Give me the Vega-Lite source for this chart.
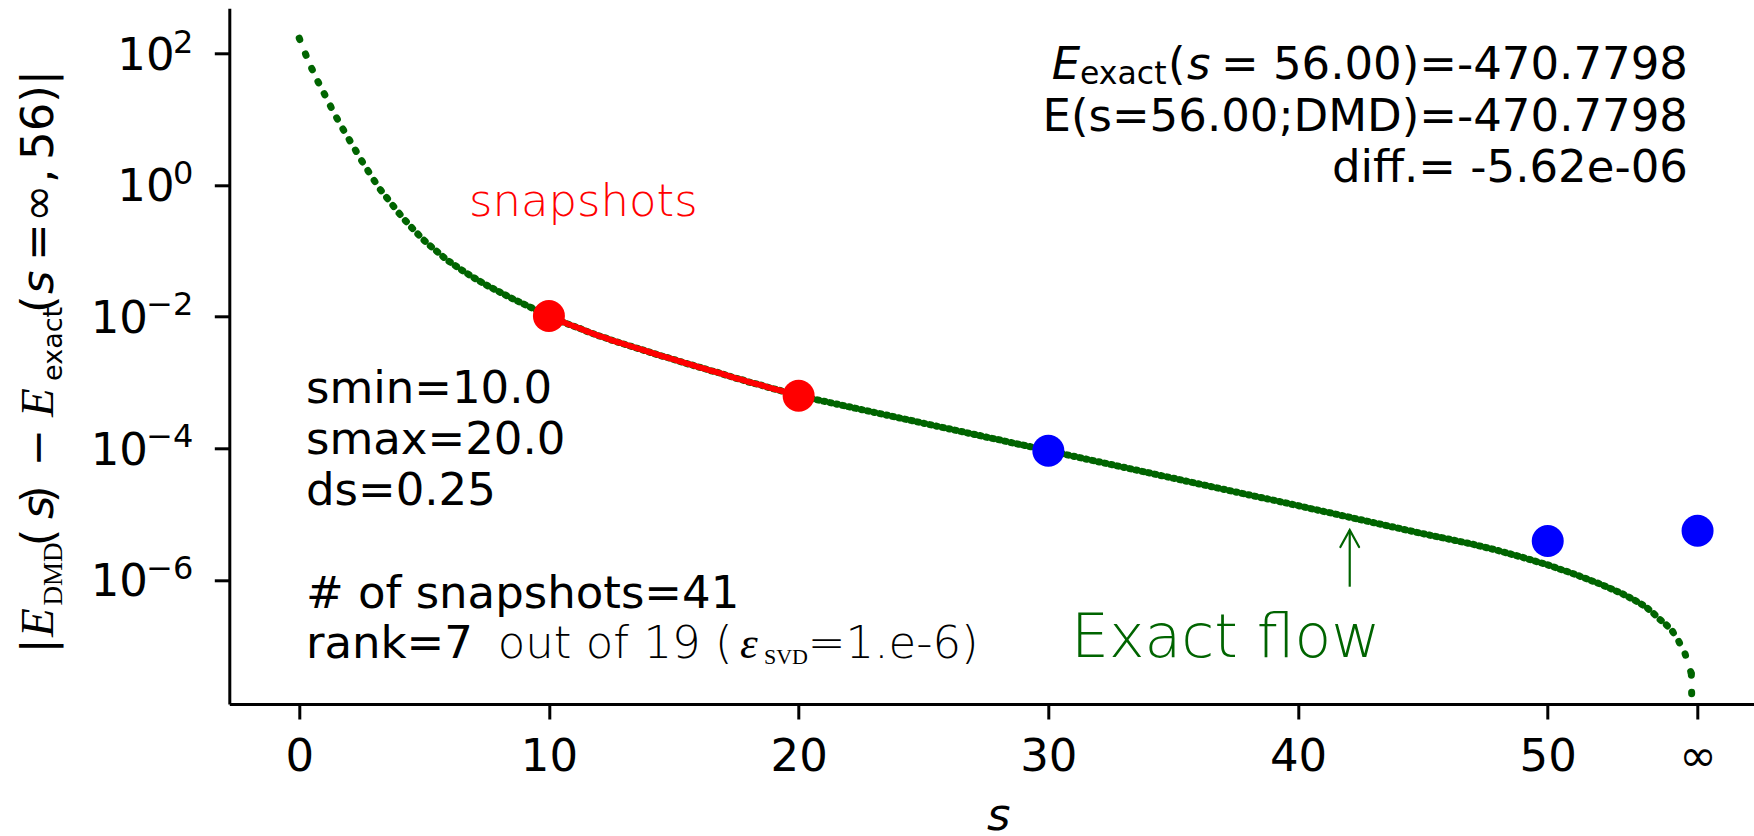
{
  "$schema": "https://vega.github.io/schema/vega-lite/v6.json",
  "width": 1524.7,
  "height": 695.7,
  "autosize": {"type": "none"},
  "padding": {"left": 229.3, "top": 8.3, "right": 0, "bottom": 132},
  "background": "white",
  "config": {
    "view": {"stroke": null},
    "axis": {
      "grid": false,
      "domainColor": "black",
      "domainWidth": 3,
      "tickColor": "black",
      "tickWidth": 3,
      "tickSize": 15,
      "labelFont": "DejaVu Sans",
      "labelFontSize": 45,
      "labelColor": "black",
      "labelFlush": false,
      "labelOverlap": false,
      "labelBound": false
    }
  },
  "datasets": {
    "exact": [
      {"s": 0, "value": 170}, {"s": 0.25, "value": 97.7}, {"s": 0.5, "value": 58.9}, {"s": 0.75, "value": 37.2},
      {"s": 1, "value": 24.5}, {"s": 1.25, "value": 15.85}, {"s": 1.5, "value": 10.47}, {"s": 1.75, "value": 7.08},
      {"s": 2, "value": 4.90}, {"s": 2.25, "value": 3.39}, {"s": 2.5, "value": 2.34}, {"s": 2.75, "value": 1.66},
      {"s": 3, "value": 1.175}, {"s": 3.25, "value": 0.851}, {"s": 3.5, "value": 0.646}, {"s": 3.75, "value": 0.490},
      {"s": 4, "value": 0.372}, {"s": 4.25, "value": 0.288}, {"s": 4.5, "value": 0.2265}, {"s": 4.75, "value": 0.1799},
      {"s": 5, "value": 0.1445}, {"s": 5.25, "value": 0.1189}, {"s": 5.5, "value": 0.0989}, {"s": 5.75, "value": 0.0822},
      {"s": 6, "value": 0.0692}, {"s": 6.25, "value": 0.0596}, {"s": 6.5, "value": 0.0513}, {"s": 6.75, "value": 0.0447},
      {"s": 7, "value": 0.0389}, {"s": 7.25, "value": 0.0343}, {"s": 7.5, "value": 0.0302}, {"s": 7.75, "value": 0.0269},
      {"s": 8, "value": 0.0240}, {"s": 8.25, "value": 0.0214}, {"s": 8.5, "value": 0.0191}, {"s": 8.75, "value": 0.0172},
      {"s": 9, "value": 0.0155}, {"s": 9.25, "value": 0.0140}, {"s": 9.5, "value": 0.0126}, {"s": 9.75, "value": 0.01135},
      {"s": 10, "value": 0.01023}, {"s": 10.25, "value": 9.33e-3}, {"s": 10.5, "value": 8.51e-3}, {"s": 10.75, "value": 7.76e-3},
      {"s": 11, "value": 7.16e-3}, {"s": 11.25, "value": 6.61e-3}, {"s": 11.5, "value": 6.03e-3}, {"s": 11.75, "value": 5.56e-3},
      {"s": 12, "value": 5.13e-3}, {"s": 12.25, "value": 4.79e-3}, {"s": 12.5, "value": 4.42e-3}, {"s": 12.75, "value": 4.12e-3},
      {"s": 13, "value": 3.85e-3}, {"s": 13.25, "value": 3.59e-3}, {"s": 13.5, "value": 3.35e-3}, {"s": 13.75, "value": 3.13e-3},
      {"s": 14, "value": 2.92e-3}, {"s": 14.25, "value": 2.72e-3}, {"s": 14.5, "value": 2.54e-3}, {"s": 14.75, "value": 2.40e-3},
      {"s": 15, "value": 2.24e-3}, {"s": 15.25, "value": 2.09e-3}, {"s": 15.5, "value": 1.95e-3}, {"s": 15.75, "value": 1.84e-3},
      {"s": 16, "value": 1.72e-3}, {"s": 16.25, "value": 1.62e-3}, {"s": 16.5, "value": 1.51e-3}, {"s": 16.75, "value": 1.43e-3},
      {"s": 17, "value": 1.33e-3}, {"s": 17.25, "value": 1.245e-3}, {"s": 17.5, "value": 1.16e-3}, {"s": 17.75, "value": 1.10e-3},
      {"s": 18, "value": 1.02e-3}, {"s": 18.25, "value": 9.66e-4}, {"s": 18.5, "value": 9.12e-4}, {"s": 18.75, "value": 8.51e-4},
      {"s": 19, "value": 8.04e-4}, {"s": 19.25, "value": 7.59e-4}, {"s": 19.5, "value": 7.08e-4}, {"s": 19.75, "value": 6.68e-4},
      {"s": 20, "value": 6.31e-4}, {"s": 20.25, "value": 6.01e-4}, {"s": 20.5, "value": 5.73e-4}, {"s": 20.75, "value": 5.46e-4},
      {"s": 21, "value": 5.21e-4}, {"s": 21.25, "value": 4.96e-4}, {"s": 21.5, "value": 4.73e-4}, {"s": 21.75, "value": 4.51e-4},
      {"s": 22, "value": 4.30e-4}, {"s": 22.25, "value": 4.09e-4}, {"s": 22.5, "value": 3.90e-4}, {"s": 22.75, "value": 3.72e-4},
      {"s": 23, "value": 3.54e-4}, {"s": 23.25, "value": 3.38e-4}, {"s": 23.5, "value": 3.22e-4}, {"s": 23.75, "value": 3.07e-4},
      {"s": 24, "value": 2.92e-4}, {"s": 24.25, "value": 2.79e-4}, {"s": 24.5, "value": 2.66e-4}, {"s": 24.75, "value": 2.53e-4},
      {"s": 25, "value": 2.41e-4}, {"s": 25.25, "value": 2.30e-4}, {"s": 25.5, "value": 2.19e-4}, {"s": 25.75, "value": 2.09e-4},
      {"s": 26, "value": 1.99e-4}, {"s": 26.25, "value": 1.90e-4}, {"s": 26.5, "value": 1.81e-4}, {"s": 26.75, "value": 1.72e-4},
      {"s": 27, "value": 1.64e-4}, {"s": 27.25, "value": 1.57e-4}, {"s": 27.5, "value": 1.49e-4}, {"s": 27.75, "value": 1.42e-4},
      {"s": 28, "value": 1.36e-4}, {"s": 28.25, "value": 1.29e-4}, {"s": 28.5, "value": 1.23e-4}, {"s": 28.75, "value": 1.17e-4},
      {"s": 29, "value": 1.12e-4}, {"s": 29.25, "value": 1.07e-4}, {"s": 29.5, "value": 1.02e-4}, {"s": 29.75, "value": 9.68e-5},
      {"s": 30, "value": 9.23e-5}, {"s": 30.25, "value": 8.79e-5}, {"s": 30.5, "value": 8.38e-5}, {"s": 30.75, "value": 7.99e-5},
      {"s": 31, "value": 7.61e-5}, {"s": 31.25, "value": 7.26e-5}, {"s": 31.5, "value": 6.91e-5}, {"s": 31.75, "value": 6.59e-5},
      {"s": 32, "value": 6.28e-5}, {"s": 32.25, "value": 5.99e-5}, {"s": 32.5, "value": 5.71e-5}, {"s": 32.75, "value": 5.44e-5},
      {"s": 33, "value": 5.18e-5}, {"s": 33.25, "value": 4.94e-5}, {"s": 33.5, "value": 4.71e-5}, {"s": 33.75, "value": 4.49e-5},
      {"s": 34, "value": 4.28e-5}, {"s": 34.25, "value": 4.08e-5}, {"s": 34.5, "value": 3.88e-5}, {"s": 34.75, "value": 3.70e-5},
      {"s": 35, "value": 3.53e-5}, {"s": 35.25, "value": 3.36e-5}, {"s": 35.5, "value": 3.20e-5}, {"s": 35.75, "value": 3.05e-5},
      {"s": 36, "value": 2.91e-5}, {"s": 36.25, "value": 2.77e-5}, {"s": 36.5, "value": 2.64e-5}, {"s": 36.75, "value": 2.52e-5},
      {"s": 37, "value": 2.40e-5}, {"s": 37.25, "value": 2.29e-5}, {"s": 37.5, "value": 2.18e-5}, {"s": 37.75, "value": 2.08e-5},
      {"s": 38, "value": 1.98e-5}, {"s": 38.25, "value": 1.89e-5}, {"s": 38.5, "value": 1.80e-5}, {"s": 38.75, "value": 1.72e-5},
      {"s": 39, "value": 1.64e-5}, {"s": 39.25, "value": 1.56e-5}, {"s": 39.5, "value": 1.49e-5}, {"s": 39.75, "value": 1.42e-5},
      {"s": 40, "value": 1.35e-5}, {"s": 40.25, "value": 1.285e-5}, {"s": 40.5, "value": 1.22e-5}, {"s": 40.75, "value": 1.165e-5},
      {"s": 41, "value": 1.11e-5}, {"s": 41.25, "value": 1.06e-5}, {"s": 41.5, "value": 1.006e-5}, {"s": 41.75, "value": 9.58e-6},
      {"s": 42, "value": 9.12e-6}, {"s": 42.25, "value": 8.68e-6}, {"s": 42.5, "value": 8.27e-6}, {"s": 42.75, "value": 7.87e-6},
      {"s": 43, "value": 7.50e-6}, {"s": 43.25, "value": 7.14e-6}, {"s": 43.5, "value": 6.80e-6}, {"s": 43.75, "value": 6.47e-6},
      {"s": 44, "value": 6.17e-6}, {"s": 44.25, "value": 5.87e-6}, {"s": 44.5, "value": 5.59e-6}, {"s": 44.75, "value": 5.32e-6},
      {"s": 45, "value": 5.07e-6}, {"s": 45.25, "value": 4.84e-6}, {"s": 45.5, "value": 4.62e-6}, {"s": 45.75, "value": 4.42e-6},
      {"s": 46, "value": 4.22e-6}, {"s": 46.25, "value": 4.03e-6}, {"s": 46.5, "value": 3.85e-6}, {"s": 46.75, "value": 3.67e-6},
      {"s": 47, "value": 3.51e-6}, {"s": 47.25, "value": 3.32e-6}, {"s": 47.5, "value": 3.14e-6}, {"s": 47.75, "value": 2.98e-6},
      {"s": 48, "value": 2.82e-6}, {"s": 48.25, "value": 2.65e-6}, {"s": 48.5, "value": 2.50e-6}, {"s": 48.75, "value": 2.35e-6},
      {"s": 49, "value": 2.21e-6}, {"s": 49.25, "value": 2.07e-6}, {"s": 49.5, "value": 1.94e-6}, {"s": 49.75, "value": 1.82e-6},
      {"s": 50, "value": 1.70e-6}, {"s": 50.25, "value": 1.58e-6}, {"s": 50.5, "value": 1.46e-6}, {"s": 50.75, "value": 1.36e-6},
      {"s": 51, "value": 1.26e-6}, {"s": 51.25, "value": 1.16e-6}, {"s": 51.5, "value": 1.065e-6}, {"s": 51.75, "value": 9.80e-7},
      {"s": 52, "value": 9.02e-7}, {"s": 52.25, "value": 8.22e-7}, {"s": 52.5, "value": 7.50e-7}, {"s": 52.75, "value": 6.81e-7},
      {"s": 53, "value": 6.17e-7}, {"s": 53.25, "value": 5.50e-7}, {"s": 53.5, "value": 4.90e-7}, {"s": 53.75, "value": 4.32e-7},
      {"s": 54, "value": 3.72e-7}, {"s": 54.25, "value": 3.09e-7}, {"s": 54.5, "value": 2.51e-7}, {"s": 54.75, "value": 2.09e-7},
      {"s": 55, "value": 1.66e-7}, {"s": 55.25, "value": 1.17e-7}, {"s": 55.5, "value": 7.59e-8}, {"s": 55.75, "value": 3.80e-8},
      {"s": 56, "value": 1e-13}
    ],
    "dmd": [
      {"s": 10, "value": 0.01023, "kind": "snapshot"},
      {"s": 20, "value": 6.31e-4, "kind": "snapshot"},
      {"s": 30, "value": 9.23e-5, "kind": "prediction"},
      {"s": 50, "value": 3.93e-6, "kind": "prediction"},
      {"s": 56, "value": 5.62e-6, "kind": "prediction"}
    ]
  },
  "encoding": {
    "x": {
      "field": "s",
      "type": "quantitative",
      "scale": {"domain": [-2.8, 58.26], "nice": false, "zero": false},
      "axis": {
        "values": [0, 10, 20, 30, 40, 50, 56],
        "labelExpr": "datum.value == 56 ? '∞' : datum.label",
        "labelPadding": 15,
        "title": "s",
        "titleFont": "DejaVu Sans",
        "titleFontStyle": "italic",
        "titleFontWeight": "normal",
        "titleFontSize": 45,
        "titleColor": "black",
        "titleX": 769,
        "titleY": 125,
        "titleAlign": "center",
        "titleBaseline": "alphabetic"
      }
    },
    "y": {
      "field": "value",
      "type": "quantitative",
      "scale": {"type": "log", "domain": [1.314e-8, 482.5], "nice": false},
      "axis": {
        "values": [100, 1, 0.01, 0.0001, 0.000001],
        "labels": false,
        "title": null
      }
    }
  },
  "layer": [
    {
      "data": {"name": "exact"},
      "transform": [
        {"window": [{"op": "lead", "field": "s", "as": "s_next"}, {"op": "lead", "field": "value", "as": "value_next"}], "sort": [{"field": "s"}]},
        {"filter": "isValid(datum.s_next)"}
      ],
      "mark": {"type": "rule", "color": "#006400", "strokeWidth": 7, "strokeDash": [1.5, 17.05], "strokeCap": "round", "clip": true},
      "encoding": {"x2": {"field": "s_next"}, "y2": {"field": "value_next"}}
    },
    {
      "data": {"name": "exact"},
      "transform": [{"filter": "datum.s >= 10 && datum.s <= 20"}],
      "mark": {"type": "line", "color": "#ff0000", "strokeWidth": 6},
      "encoding": {}
    },
    {
      "data": {"name": "dmd"},
      "mark": {"type": "circle", "size": 1024, "opacity": 1},
      "encoding": {
        "color": {"field": "kind", "type": "nominal", "scale": {"domain": ["snapshot", "prediction"], "range": ["#ff0000", "#0000ff"]}, "legend": null}
      }
    },
    {
      "mark": {"type": "rule", "color": "black", "strokeWidth": 3},
      "encoding": {"x": null, "y": {"datum": 482.5}}
    },
    {
      "data": {"values": [{"s": 42.07, "value": 5.77e-6, "tail": 7.94e-7}]},
      "mark": {"type": "rule", "color": "#006400", "strokeWidth": 2.2},
      "encoding": {"y2": {"field": "tail"}}
    },
    {
      "data": {"values": [{"s": 42.07, "value": 5.77e-6}]},
      "mark": {"type": "point", "shape": "M-0.55,1L0,0L0.55,1", "size": 1156, "filled": false, "opacity": 1, "color": "#006400", "strokeWidth": 2.2, "strokeCap": "round"},
      "encoding": {}
    },
    {
      "data": {"values": [
        {"label": "10", "s": -4.99, "value": 56.55},
        {"label": "10", "s": -4.99, "value": 0.5655},
        {"label": "10", "s": -6.06, "value": 5.655e-3},
        {"label": "10", "s": -6.06, "value": 5.655e-5},
        {"label": "10", "s": -6.06, "value": 5.655e-7}
      ]},
      "mark": {"type": "text", "font": "DejaVu Sans", "fontSize": 45, "align": "right", "baseline": "alphabetic", "color": "black"},
      "encoding": {"text": {"field": "label"}}
    },
    {
      "data": {"values": [
        {"label": "2", "s": -4.237, "value": 100},
        {"label": "0", "s": -4.237, "value": 1.054},
        {"label": "−2", "s": -4.237, "value": 0.01054},
        {"label": "−4", "s": -4.237, "value": 1.054e-4},
        {"label": "−6", "s": -4.237, "value": 1.054e-6}
      ]},
      "mark": {"type": "text", "font": "DejaVu Sans", "fontSize": 32, "align": "right", "baseline": "alphabetic", "color": "black"},
      "encoding": {"text": {"field": "label"}}
    },
    {
      "data": {"values": [
        {"label": "smin=10.0", "s": 0.27, "value": 4.94e-4},
        {"label": "smax=20.0", "s": 0.27, "value": 8.14e-5},
        {"label": "ds=0.25", "s": 0.27, "value": 1.382e-5},
        {"label": "# of snapshots=41", "s": 0.27, "value": 3.73e-7},
        {"label": "rank=7", "s": 0.27, "value": 6.49e-8},
        {"label": "(", "s": 34.79, "value": 40.3}
      ]},
      "mark": {"type": "text", "font": "DejaVu Sans", "fontSize": 45, "align": "left", "baseline": "alphabetic", "color": "black"},
      "encoding": {"text": {"field": "label"}}
    },
    {
      "data": {"values": [
        {"label": "= 56.00)=-470.7798", "s": 55.615, "value": 40.3},
        {"label": "E(s=56.00;DMD)=-470.7798", "s": 55.615, "value": 6.68},
        {"label": "diff.= -5.62e-06", "s": 55.615, "value": 1.122}
      ]},
      "mark": {"type": "text", "font": "DejaVu Sans", "fontSize": 45, "align": "right", "baseline": "alphabetic", "color": "black"},
      "encoding": {"text": {"field": "label"}}
    },
    {
      "data": {"values": [
        {"label": "E", "s": 30.14, "value": 40.3},
        {"label": "s", "s": 35.55, "value": 40.3}
      ]},
      "mark": {"type": "text", "font": "DejaVu Sans", "fontStyle": "italic", "fontSize": 45, "align": "left", "baseline": "alphabetic", "color": "black"},
      "encoding": {"text": {"field": "label"}}
    },
    {
      "data": {"values": [{"label": "exact", "s": 31.27, "value": 33.6}]},
      "mark": {"type": "text", "font": "DejaVu Sans", "fontSize": 31.5, "align": "left", "baseline": "alphabetic", "color": "black"},
      "encoding": {"text": {"field": "label"}}
    },
    {
      "data": {"values": [
        {"label": "out of 19 (", "s": 7.95, "value": 6.49e-8},
        {"label": "=1.e-6)", "s": 20.37, "value": 6.49e-8}
      ]},
      "mark": {"type": "text", "font": "DejaVu Sans", "fontWeight": 200, "fontSize": 45, "align": "left", "baseline": "alphabetic", "color": "black"},
      "encoding": {"text": {"field": "label"}}
    },
    {
      "data": {"values": [{"label": "ε", "s": 17.65, "value": 6.49e-8}]},
      "mark": {"type": "text", "font": "Liberation Serif", "fontStyle": "italic", "fontSize": 45, "align": "left", "baseline": "alphabetic", "color": "black"},
      "encoding": {"text": {"field": "label"}}
    },
    {
      "data": {"values": [{"label": "SVD", "s": 18.61, "value": 5.26e-8}]},
      "mark": {"type": "text", "font": "Liberation Serif", "fontSize": 22, "align": "left", "baseline": "alphabetic", "color": "black"},
      "encoding": {"text": {"field": "label"}}
    },
    {
      "data": {"values": [{"label": "snapshots", "s": 6.8, "value": 0.342}]},
      "mark": {"type": "text", "font": "DejaVu Sans", "fontWeight": 200, "fontSize": 45, "align": "left", "baseline": "alphabetic", "color": "#ff0000"},
      "encoding": {"text": {"field": "label"}}
    },
    {
      "data": {"values": [{"label": "Exact flow", "s": 30.91, "value": 6.87e-8}]},
      "mark": {"type": "text", "font": "DejaVu Sans", "fontWeight": 200, "fontSize": 60, "align": "left", "baseline": "alphabetic", "color": "#006400"},
      "encoding": {"text": {"field": "label"}}
    },
    {
      "data": {"values": [
        {"label": "|", "s": -9.864, "value": 7.66e-8},
        {"label": "(", "s": -9.864, "value": 3.26e-6},
        {"label": ")", "s": -9.864, "value": 1.48e-5},
        {"label": "−", "s": -9.864, "value": 5.31e-5},
        {"label": "(", "s": -9.864, "value": 1.138e-2},
        {"label": "=", "s": -9.864, "value": 7.02e-2},
        {"label": "∞", "s": -9.864, "value": 0.274},
        {"label": ",", "s": -9.864, "value": 1.07},
        {"label": "56)|", "s": -9.864, "value": 2.40}
      ]},
      "mark": {"type": "text", "font": "DejaVu Sans", "fontSize": 45, "angle": 270, "align": "left", "baseline": "alphabetic", "color": "black"},
      "encoding": {"text": {"field": "label"}}
    },
    {
      "data": {"values": [
        {"label": "s", "s": -9.864, "value": 8.47e-6},
        {"label": "s", "s": -9.864, "value": 2.21e-2}
      ]},
      "mark": {"type": "text", "font": "DejaVu Sans", "fontStyle": "italic", "fontSize": 45, "angle": 270, "align": "left", "baseline": "alphabetic", "color": "black"},
      "encoding": {"text": {"field": "label"}}
    },
    {
      "data": {"values": [
        {"label": "E", "s": -9.864, "value": 1.368e-7},
        {"label": "E", "s": -9.864, "value": 3.0e-4}
      ]},
      "mark": {"type": "text", "font": "Liberation Serif", "fontStyle": "italic", "fontSize": 47, "angle": 270, "align": "left", "baseline": "alphabetic", "color": "black"},
      "encoding": {"text": {"field": "label"}}
    },
    {
      "data": {"values": [{"label": "DMD", "s": -9.504, "value": 4.11e-7}]},
      "mark": {"type": "text", "font": "Liberation Serif", "fontSize": 27, "angle": 270, "align": "left", "baseline": "alphabetic", "color": "black"},
      "encoding": {"text": {"field": "label"}}
    },
    {
      "data": {"values": [{"label": "exact", "s": -9.504, "value": 1.057e-3}]},
      "mark": {"type": "text", "font": "DejaVu Sans", "fontSize": 27, "angle": 270, "align": "left", "baseline": "alphabetic", "color": "black"},
      "encoding": {"text": {"field": "label"}}
    }
  ]
}
